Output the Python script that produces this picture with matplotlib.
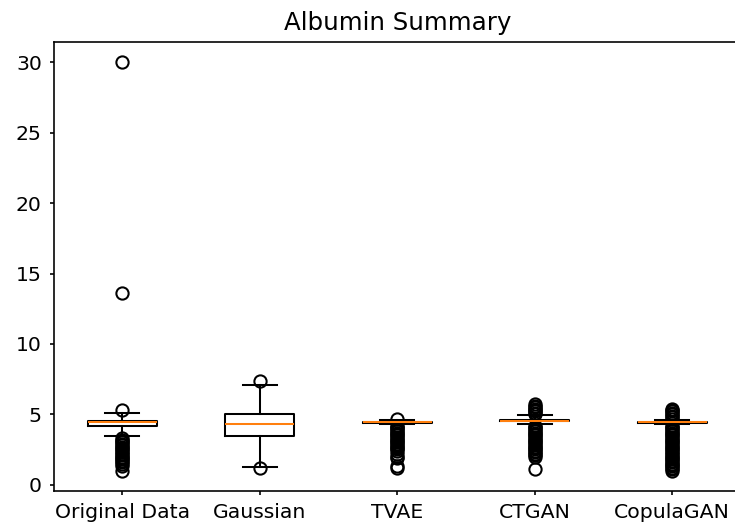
import matplotlib
matplotlib.use("Agg")
import matplotlib.pyplot as plt

labels = ["Original Data", "Gaussian", "TVAE", "CTGAN", "CopulaGAN"]

# box statistics
q1 = [4.15, 3.43, 4.40, 4.50, 4.40]
med = [4.44, 4.30, 4.43, 4.55, 4.44]
q3 = [4.50, 5.03, 4.46, 4.60, 4.47]
whislo = [3.43, 1.25, 4.30, 4.28, 4.30]
whishi = [5.08, 7.10, 4.60, 4.92, 4.60]

fliers_orig = [30.0, 13.6, 5.3, 3.3, 3.2, 3.1, 3.0, 2.9, 2.8, 2.7, 2.6, 2.5,
               2.4, 2.3, 2.2, 2.1, 2.0, 1.9, 1.8, 1.7, 1.6, 1.5, 1.3, 1.0]
fliers_gauss = [7.35, 1.15]
fliers_tvae = [4.7, 4.2, 4.1, 4.0, 3.9, 3.8, 3.7, 3.6, 3.5, 3.4, 3.3, 3.2,
               3.1, 3.0, 2.9, 2.8, 2.7, 2.6, 2.5, 2.4, 2.2, 2.0, 1.9, 1.35, 1.15]
fliers_ctgan = [5.0, 5.1, 5.2, 5.3, 5.4, 5.5, 5.6, 5.75, 4.2, 4.1, 4.0, 3.9,
                3.8, 3.7, 3.6, 3.5, 3.4, 3.3, 3.2, 3.1, 3.0, 2.9, 2.8, 2.7,
                2.6, 2.5, 2.4, 2.3, 2.2, 2.1, 2.0, 1.1]
fliers_copula = [4.7, 4.8, 4.9, 5.0, 5.1, 5.2, 5.3, 5.4, 4.2, 4.1, 4.0, 3.9,
                 3.8, 3.7, 3.6, 3.5, 3.4, 3.3, 3.2, 3.1, 3.0, 2.9, 2.8, 2.7,
                 2.6, 2.5, 2.4, 2.3, 2.2, 2.1, 2.0, 1.9, 1.8, 1.7, 1.6, 1.5,
                 1.4, 1.3, 1.2, 1.1, 1.0]
fliers = [fliers_orig, fliers_gauss, fliers_tvae, fliers_ctgan, fliers_copula]

stats = []
for i in range(len(labels)):
    stats.append(dict(label=labels[i], q1=q1[i], med=med[i], q3=q3[i],
                      whislo=whislo[i], whishi=whishi[i], fliers=fliers[i]))

# the original image is cut off on the right, so the axes runs past the edge
fig = plt.figure(figsize=(735 / 147, 531 / 147), dpi=147)
ax = fig.add_axes([53.5 / 735, 1 - 491 / 531, 687.5 / 735, 449 / 531])
ax.bxp(stats)
ax.set_title("Albumin Summary", fontsize=12)
ax.tick_params(labelsize=10, length=2.2)

fig.savefig("out.png", dpi=147)
